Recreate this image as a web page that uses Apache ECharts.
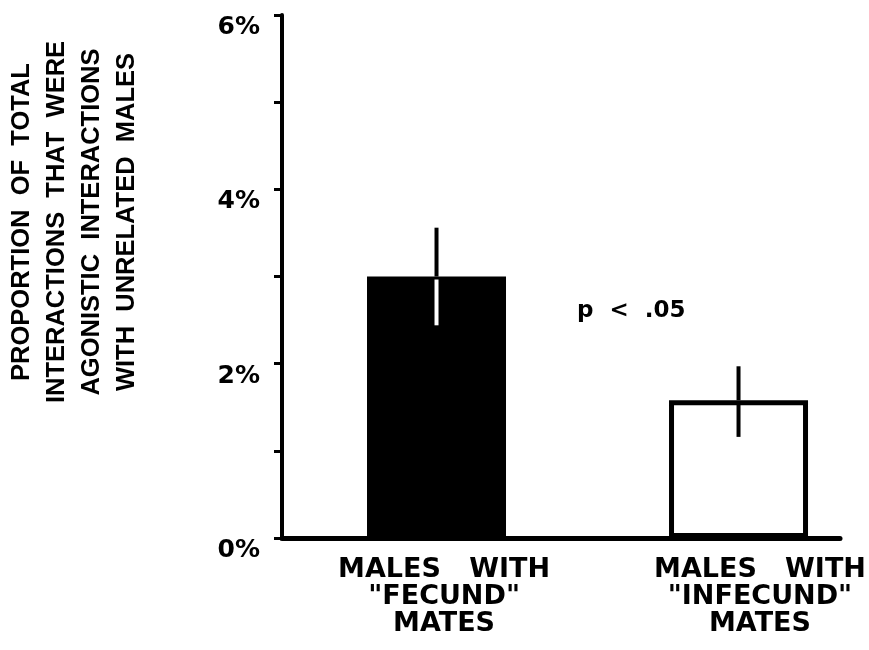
<!DOCTYPE html>
<html>
<head>
<meta charset="utf-8">
<script src="https://cdn.jsdelivr.net/npm/echarts@6/dist/echarts.min.js"></script>
<style>
html,body{margin:0;padding:0;background:#fff;}
#chart{width:869px;height:650px;}
</style>
</head>
<body>
<div id="chart"></div>
<script>
// ---- data ----
var categories = ['MALES   WITH\n"FECUND"\nMATES', 'MALES   WITH\n"INFECUND"\nMATES'];
var categoryX = [1, 2];
var means = [3.0, 1.58];
var errLow = [2.44, 1.16];
var errHigh = [3.56, 1.97];
var yTicks = [0, 1, 2, 3, 4, 5, 6];
var yTitleLines = ['PROPORTION  OF  TOTAL', 'INTERACTIONS  THAT  WERE', 'AGONISTIC  INTERACTIONS', 'WITH  UNRELATED  MALES'];
var annotation = 'p  <  .05';

// ---- chart ----
var barFill = ['#000', '#fff'];
var errInside = ['#fff', '#000'];
var labelPos = [1.025, 2.071];

var chart = echarts.init(document.getElementById('chart'), null, {renderer: 'canvas'});

var barData = means.map(function (m, i) {
  return {
    value: [categoryX[i], m],
    itemStyle: {color: barFill[i], borderColor: '#000', borderWidth: i === 0 ? 0 : 5}
  };
});
var errData = means.map(function (m, i) {
  return [categoryX[i], m, errLow[i], errHigh[i], i];
});

var option = {
  backgroundColor: '#fff',
  animation: false,
  grid: {left: 282, right: 29, top: 15, bottom: 112, containLabel: false},
  xAxis: {
    type: 'value',
    min: 0.4884,
    max: 2.336,
    axisLine: {show: true, onZero: false, lineStyle: {color: '#000', width: 5}},
    axisTick: {show: false},
    splitLine: {show: false},
    axisLabel: {
      customValues: labelPos,
      formatter: function (v) {
        var idx = Math.round(v) - 1;
        return categories[idx] || '';
      },
      color: '#000',
      fontFamily: 'DejaVu Sans',
      fontWeight: 'bold',
      fontSize: 27,
      lineHeight: 27,
      margin: 18
    }
  },
  yAxis: {
    type: 'value',
    min: 0,
    max: 6,
    interval: 1,
    axisLine: {show: true, onZero: false, lineStyle: {color: '#000', width: 4}},
    axisTick: {show: true, length: 8, lineStyle: {color: '#000', width: 3}},
    splitLine: {show: false},
    axisLabel: {
      formatter: function (v) { return (yTicks.indexOf(v) >= 0 && v % 2 === 0) ? v + '%' : ''; },
      color: '#000',
      fontFamily: 'DejaVu Sans',
      fontWeight: 'bold',
      fontSize: 25,
      margin: 22,
      verticalAlign: 'top'
    }
  },
  series: [
    {
      type: 'bar',
      barWidth: 139,
      data: barData,
      z: 2
    },
    {
      type: 'custom',
      z: 3,
      data: errData,
      encode: {x: 0, y: [2, 3]},
      renderItem: function (params, api) {
        var x = api.value(0), m = api.value(1), lo = api.value(2), hi = api.value(3), i = api.value(4);
        var pHi = api.coord([x, hi]);
        var pM = api.coord([x, m]);
        var pLo = api.coord([x, lo]);
        return {
          type: 'group',
          children: [
            {type: 'line', shape: {x1: pM[0], y1: pM[1], x2: pHi[0], y2: pHi[1]}, style: {stroke: '#000', lineWidth: 4}},
            {type: 'line', shape: {x1: pLo[0], y1: pLo[1], x2: pM[0], y2: pM[1] + 3}, style: {stroke: errInside[i], lineWidth: 4}}
          ]
        };
      }
    }
  ],
  graphic: [
    {
      type: 'text',
      x: 74,
      y: 222,
      rotation: Math.PI / 2,
      style: {
        text: yTitleLines.join('\n'),
        font: 'bold 25.5px "Liberation Sans", Arial, sans-serif',
        fill: '#000',
        textAlign: 'center',
        textVerticalAlign: 'middle',
        lineHeight: 35
      }
    },
    {
      type: 'text',
      x: 577,
      y: 311,
      style: {
        text: annotation,
        font: 'bold 23px "DejaVu Sans", sans-serif',
        fill: '#000',
        textAlign: 'left',
        textVerticalAlign: 'middle'
      }
    }
  ]
};
chart.setOption(option);
</script>
</body>
</html>
